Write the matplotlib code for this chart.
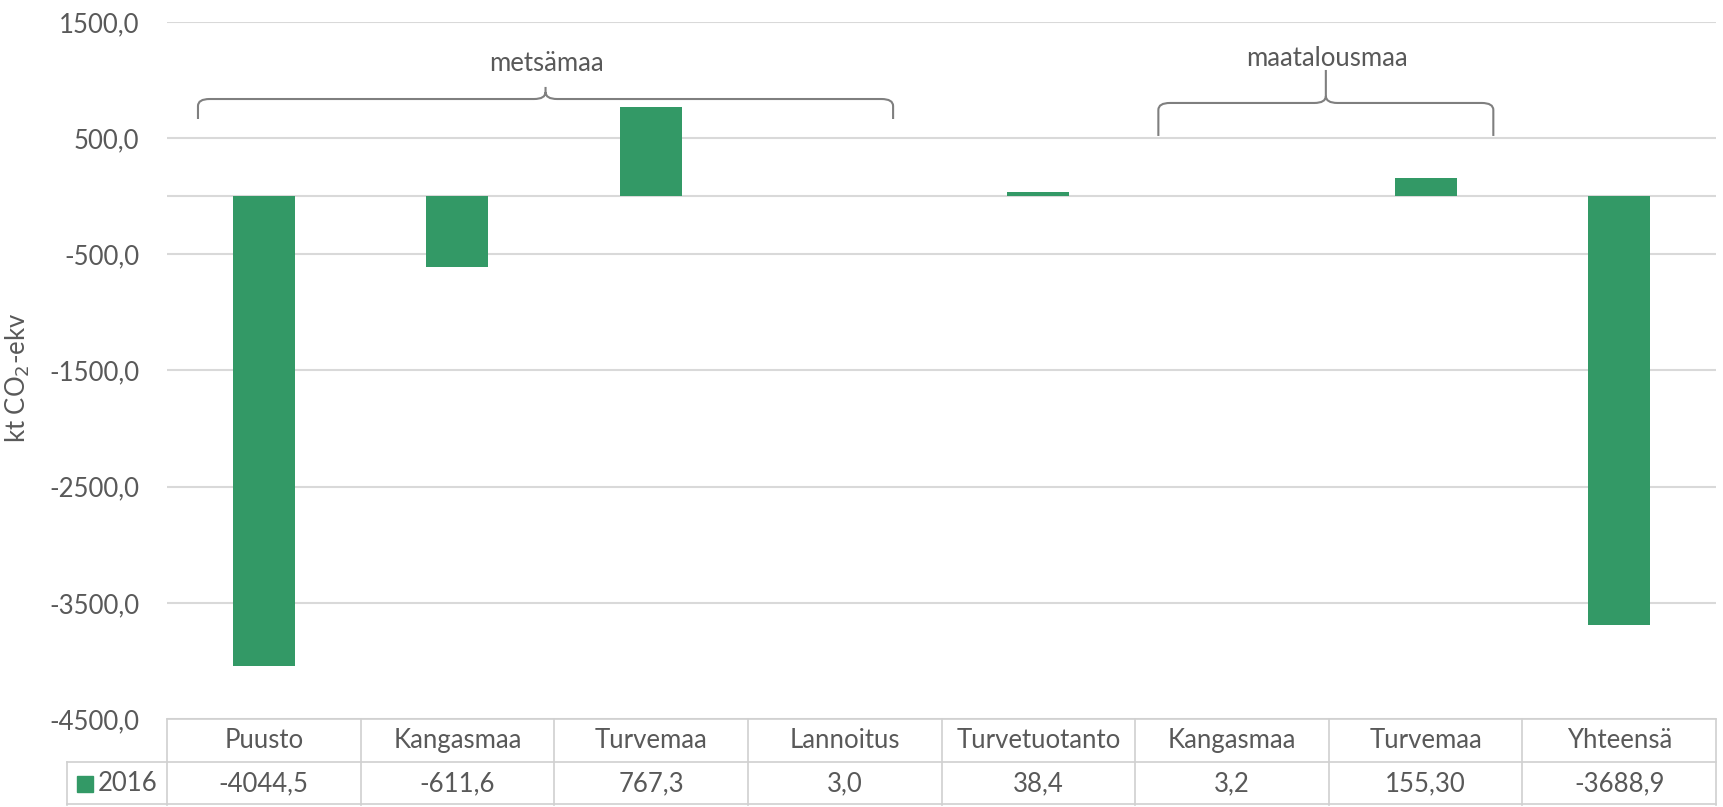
import numpy as np
import matplotlib
matplotlib.use("Agg")
import matplotlib.pyplot as plt
from matplotlib.path import Path
from matplotlib.patches import PathPatch, Rectangle

plt.rcParams['font.family'] = ['Lato', 'DejaVu Sans']

# data
categories = ["Puusto", "Kangasmaa", "Turvemaa", "Lannoitus", "Turvetuotanto",
              "Kangasmaa", "Turvemaa", "Yhteensä"]
values = [-4044.5, -611.6, 767.3, 3.0, 38.4, 3.2, 155.30, -3688.9]
value_labels = ["-4044,5", "-611,6", "767,3", "3,0", "38,4", "3,2", "155,30", "-3688,9"]
series_name = "2016"
yticks = [-4500, -3500, -2500, -1500, -500, 500, 1500]
groups = [("metsämaa", 0, 3), ("maatalousmaa", 5, 6)]

green = '#339966'
txt = '#595959'
grid = '#d9d9d9'
fs = 18.5

fig = plt.figure(figsize=(17.23, 8.07), dpi=100)
ax = fig.add_axes([167/1723, 1-719/807, 1549/1723, 697/807])

x = np.arange(len(categories))
ax.bar(x, values, width=0.32, color=green, zorder=3)

ax.set_xlim(-0.5, len(categories)-0.5)
ax.set_ylim(yticks[0], yticks[-1])
ax.set_yticks(yticks)
ax.set_yticklabels([("%.1f" % v).replace('.', ',') for v in yticks], color=txt, fontsize=fs)
ax.tick_params(axis='y', length=0, pad=20)
ax.set_xticks([])
for s in ax.spines.values():
    s.set_visible(False)
for v in yticks:
    ax.axhline(v, color=grid, lw=1.5, zorder=1)
ax.axhline(0, color=grid, lw=1.5, zorder=2)

ax.set_ylabel("kt CO$_2$-ekv", color=txt, fontsize=fs)
ax.yaxis.set_label_coords(-0.087, 0.49)

# data table below the axes
row_h = 43/697
lab_left = (67-167)/1549
tr = ax.get_xaxis_transform()
lc = '#d0d0d0'
for i in range(len(categories)+1):
    ax.plot([i-0.5, i-0.5], [0, -2*row_h], transform=tr, color=lc, lw=1.2, clip_on=False)
ax.plot([-0.5, len(categories)-0.5], [0, 0], transform=tr, color=lc, lw=1.2, clip_on=False)
for yy in [-row_h, -2*row_h + 0.002]:
    ax.plot([lab_left, 1], [yy, yy], transform=ax.transAxes, color=lc, lw=1.2, clip_on=False)
ax.plot([lab_left, lab_left], [-row_h, -2*row_h], transform=ax.transAxes, color=lc, lw=1.2, clip_on=False)
for i, (c, vl) in enumerate(zip(categories, value_labels)):
    ax.text(i, -row_h/2, c, transform=tr, ha='center', va='center', color=txt, fontsize=fs)
    ax.text(i, -1.5*row_h, vl, transform=tr, ha='center', va='center', color=txt, fontsize=fs)
ax.add_patch(Rectangle(((77-167)/1549, -1.5*row_h - 8/697), 16/1549, 16/697,
                       transform=ax.transAxes, color=green, clip_on=False))
ax.text((98-167)/1549, -1.5*row_h, series_name, transform=ax.transAxes,
        ha='left', va='center', color=txt, fontsize=fs)

# curly braces over groups
def brace(x0, x1, ybase, yline, ytip, r=0.06, rv=60):
    xm = (x0+x1)/2
    verts = [(x0, ybase), (x0, yline-rv), (x0, yline), (x0+r, yline),
             (xm-r, yline), (xm, yline), (xm, yline+rv), (xm, ytip),
             (xm, yline+rv), (xm, yline), (xm+r, yline),
             (x1-r, yline), (x1, yline), (x1, yline-rv), (x1, ybase)]
    codes = [Path.MOVETO, Path.LINETO, Path.CURVE3, Path.CURVE3,
             Path.LINETO, Path.CURVE3, Path.CURVE3, Path.LINETO,
             Path.MOVETO, Path.CURVE3, Path.CURVE3,
             Path.LINETO, Path.CURVE3, Path.CURVE3, Path.LINETO]
    ax.add_patch(PathPatch(Path(verts, codes), fill=False, ec='#7f7f7f', lw=1.5, zorder=4))

brace(-0.34, 3.25, 665, 837, 941)
ax.text(1.46, 1139, groups[0][0], ha='center', va='center', color=txt, fontsize=fs)
brace(4.62, 6.35, 519, 803, 1087)
ax.text(5.49, 1190, groups[1][0], ha='center', va='center', color=txt, fontsize=fs)

fig.savefig("out.png", dpi=100)
